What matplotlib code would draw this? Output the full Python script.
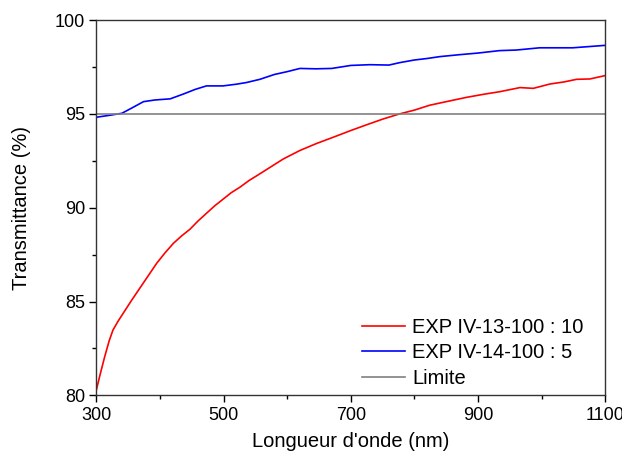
import matplotlib
matplotlib.use('Agg')
import matplotlib.pyplot as plt
from matplotlib.ticker import FixedLocator

plt.rcParams['font.family'] = ['Liberation Sans', 'DejaVu Sans']

# EXP IV-13-100 : 10
wl_red = [300, 305, 313, 320, 326, 334, 342, 355, 368, 382, 395, 408, 421, 434,
          447, 460, 473, 486, 499, 512, 526, 540, 552, 573, 594, 620, 646, 672,
          699, 725, 751, 777, 800, 824, 850, 882, 910, 934, 966, 987, 1013, 1035,
          1055, 1076, 1100]
t_red = [80.3, 81.0, 82.06, 82.9, 83.48, 83.95, 84.37, 85.05, 85.7, 86.4, 87.05,
         87.6, 88.1, 88.5, 88.85, 89.3, 89.7, 90.1, 90.45, 90.8, 91.1, 91.45,
         91.7, 92.15, 92.6, 93.05, 93.42, 93.75, 94.1, 94.42, 94.73, 95.0, 95.2,
         95.46, 95.65, 95.88, 96.05, 96.18, 96.4, 96.36, 96.59, 96.7, 96.84,
         96.86, 97.04]

# EXP IV-14-100 : 5
wl_blue = [300, 320, 340, 355, 374, 392, 416, 437, 455, 473, 499, 520, 536, 557,
           580, 600, 620, 645, 670, 700, 730, 760, 777, 800, 820, 840, 870, 900,
           934, 960, 997, 1049, 1100]
t_blue = [94.82, 94.92, 95.03, 95.3, 95.65, 95.74, 95.8, 96.06, 96.3, 96.49, 96.49,
          96.58, 96.67, 96.84, 97.1, 97.25, 97.42, 97.4, 97.42, 97.58, 97.62, 97.6,
          97.73, 97.87, 97.95, 98.05, 98.15, 98.24, 98.37, 98.4, 98.52, 98.52, 98.65]

limite = 95

x_major = [300, 500, 700, 900, 1100]
x_minor = [400, 600, 800, 1000]
y_major = [80, 85, 90, 95, 100]
y_minor = [82.5, 87.5, 92.5, 97.5]

fig = plt.figure(figsize=(6.22, 4.55), dpi=100)
ax = fig.add_axes([0.155, 0.131, 0.818, 0.825])

ax.plot(wl_red, t_red, color='#ff0000', lw=1.2, label='EXP IV-13-100 : 10')
ax.plot(wl_blue, t_blue, color='#0000ff', lw=1.2, label='EXP IV-14-100 : 5')
ax.axhline(limite, color='#808080', lw=1.2, label='Limite')

ax.set_xlim(300, 1100)
ax.set_ylim(80, 100)
ax.xaxis.set_major_locator(FixedLocator(x_major))
ax.xaxis.set_minor_locator(FixedLocator(x_minor))
ax.yaxis.set_major_locator(FixedLocator(y_major))
ax.yaxis.set_minor_locator(FixedLocator(y_minor))
ax.tick_params(which='major', direction='out', length=5, width=1, labelsize=13, pad=3)
ax.tick_params(which='minor', direction='out', length=3, width=1)
for s in ax.spines.values():
    s.set_linewidth(1.0)
    s.set_color('#333333')

ax.set_xlabel("Longueur d'onde (nm)", fontsize=14.5, labelpad=6)
ax.set_ylabel('Transmittance (%)', fontsize=14.5, labelpad=17)

ax.legend(loc='upper left', bbox_to_anchor=(0.522, 0.207), frameon=False,
          fontsize=14.5, handlelength=2.15, handletextpad=0.33, labelspacing=0.32,
          borderpad=0, borderaxespad=0)

fig.savefig('out.png', dpi=100)
